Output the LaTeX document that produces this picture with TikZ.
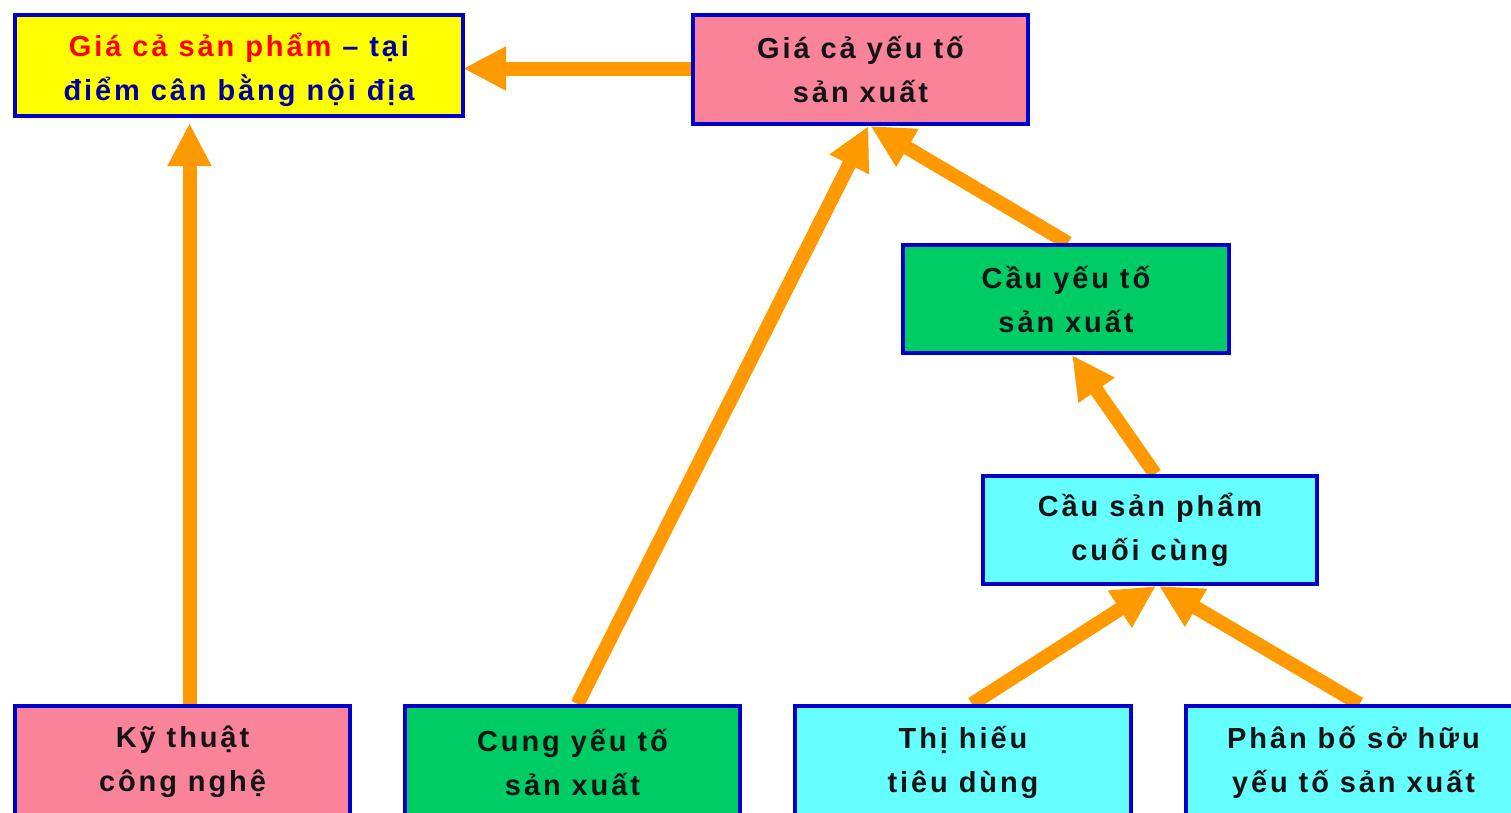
\documentclass[tikz,border=0pt]{standalone}
\usepackage{fontspec}
\setmainfont{Liberation Sans}[LetterSpace=10]
\usetikzlibrary{arrows.meta,backgrounds}
\definecolor{bpink}{HTML}{F98399}
\definecolor{bgreen}{HTML}{00CC66}
\definecolor{bcyan}{HTML}{66FFFF}
\definecolor{byellow}{HTML}{FFFF00}
\definecolor{aorange}{HTML}{FF9900}
\definecolor{bborder}{HTML}{0000CC}
\definecolor{tblue}{HTML}{0000A0}
\definecolor{tred}{HTML}{FF0000}
\tikzset{
  boxtext/.style={align=center, font=\fontsize{29}{44}\selectfont\bfseries, text=black!92},
  box/.style={draw=bborder, line width=4pt, rectangle, inner sep=0pt, boxtext},
  flow/.style={draw=aorange, line width=14pt, -{Triangle[width=41pt,length=43pt]}}
}
\begin{document}
\begin{tikzpicture}[x=1pt,y=-1pt]
\useasboundingbox (0,0) rectangle (1511,812);
\clip (0,0) rectangle (1511,812);
% top row
\node[box, fill=byellow, minimum width=448pt, minimum height=101pt,
  label={[boxtext, text=tblue, yshift=-4pt]center:{{\color{tred}Giá cả sản phẩm} – tại\\điểm cân bằng nội địa}}]
  (gsp) at (239,65.5) {};
\node[box, fill=bpink, minimum width=335pt, minimum height=109pt] (gyt) at (860.5,69.5)
  {Giá cả yếu tố\\sản xuất};
% middle
\node[box, fill=bgreen, minimum width=326pt, minimum height=108pt] (cyt) at (1066,299)
  {Cầu yếu tố\\sản xuất};
\node[box, fill=bcyan, minimum width=334pt, minimum height=108pt] (csp) at (1150,530)
  {Cầu sản phẩm\\cuối cùng};
% bottom row
\node[box, fill=bpink, minimum width=335pt, minimum height=112pt] (ktcn) at (182.5,762)
  {Kỹ thuật\\công nghệ};
\node[box, fill=bgreen, minimum width=335pt, minimum height=112pt] (cung) at (572.5,762)
  {Cung yếu tố\\sản xuất};
\node[box, fill=bcyan, minimum width=336pt, minimum height=112pt] (thtd) at (963,762)
  {Thị hiếu\\tiêu dùng};
\node[box, fill=bcyan, minimum width=335pt, minimum height=112pt] (pbsh) at (1353.5,762)
  {Phân bố sở hữu\\yếu tố sản xuất};
% arrows
\begin{pgfonlayer}{background}
\draw[flow, shorten >=-2pt] ([yshift=1pt]gyt.west) -- ([yshift=1pt]gyt.west -| gsp.east);
\draw[flow, shorten >=5pt] ([xshift=7pt]ktcn.north) -- ([xshift=7pt]ktcn.north |- gsp.south);
\draw[flow] ([xshift=5pt]cung.north) -- ([xshift=8pt]gyt.south);
\draw[flow] ([xshift=2pt]cyt.north) -- ([xshift=10pt]gyt.south);
\draw[flow] ([xshift=5pt]csp.north) -- ([xshift=6pt]cyt.south);
\draw[flow] ([xshift=9pt]thtd.north) -- ([xshift=6pt]csp.south);
\draw[flow] ([xshift=6pt]pbsh.north) -- ([xshift=9pt]csp.south);
\end{pgfonlayer}
\end{tikzpicture}
\end{document}
